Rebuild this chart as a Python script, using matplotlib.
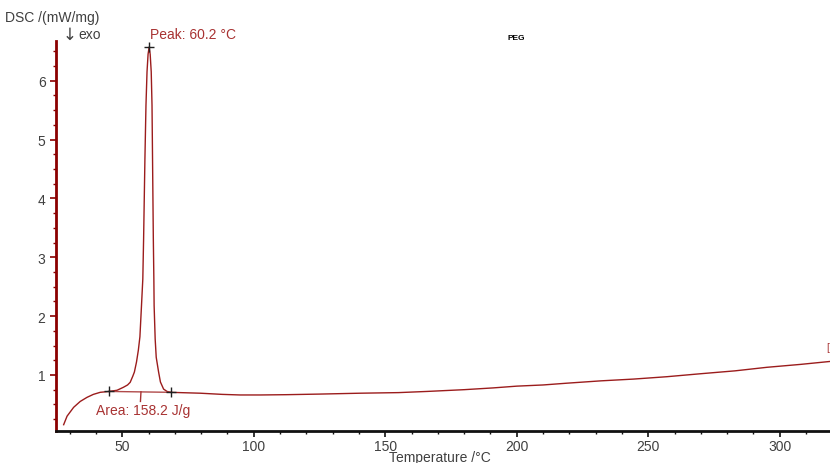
import matplotlib
matplotlib.use("Agg")
import matplotlib.pyplot as plt
from matplotlib.ticker import MultipleLocator

plt.rcParams['font.family'] = ['Liberation Sans', 'DejaVu Sans']

temperature = [27.7, 29.0, 31.5, 34.0, 36.6, 39.0, 41.6, 45.0, 48.0, 50.4, 52.0, 53.0,
               54.0, 54.6, 55.4, 56.1, 56.7, 57.3, 57.8, 58.1, 58.6, 59.0, 59.4, 59.8,
               60.2, 60.6, 61.0, 61.3, 61.5, 61.8, 62.0, 62.1, 62.5, 62.9, 63.8, 64.5,
               65.7, 67.0, 68.4, 72.0, 79.6, 88.0, 94.8, 102.5, 112.6, 125.0, 140.5,
               155.0, 165.9, 180.0, 191.0, 200.0, 210.0, 219.0, 232.0, 244.4, 257.0,
               269.7, 283.0, 295.1, 308.0, 319.2]
dsc = [0.155, 0.30, 0.45, 0.55, 0.62, 0.67, 0.705, 0.72, 0.74, 0.79, 0.83, 0.875,
       0.98, 1.05, 1.22, 1.42, 1.65, 2.18, 2.63, 3.31, 4.67, 5.58, 6.15, 6.45,
       6.57, 6.45, 6.15, 5.58, 4.67, 3.31, 2.63, 2.18, 1.61, 1.30, 1.05, 0.88,
       0.76, 0.72, 0.705, 0.70, 0.69, 0.67, 0.66, 0.66, 0.665, 0.675, 0.69,
       0.70, 0.72, 0.75, 0.78, 0.81, 0.83, 0.86, 0.90, 0.93, 0.97,
       1.02, 1.07, 1.13, 1.18, 1.23]

peak_T, peak_v = 60.2, 6.57
base_T = [45.0, 68.4]
base_v = [0.72, 0.705]
area_mark_T = 57.1

x_major = [50, 100, 150, 200, 250, 300]
y_major = [1, 2, 3, 4, 5, 6]

red = '#9b1c1c'
txtred = '#a83232'
gray = '#404040'

fig = plt.figure(figsize=(8.3, 4.64), dpi=100)
ax = fig.add_axes([0.0675, 0.069, 0.9325, 0.8405])

ax.plot(temperature, dsc, color=red, lw=1.0)
ax.plot(base_T, base_v, color='#b04a4a', lw=1.0)
ax.plot(base_T, base_v, linestyle='none', marker='+', color='#202020', ms=7, mew=1.0)
ax.plot([peak_T], [peak_v], linestyle='none', marker='+', color='#202020', ms=7, mew=1.0)
ax.plot([area_mark_T, area_mark_T - 0.2], [0.713, 0.55], color=txtred, lw=1.0)

ax.set_xlim(24.8, 319.1)
ax.set_ylim(0.048, 6.675)
ax.set_xticks(x_major)
ax.set_yticks(y_major)
ax.xaxis.set_minor_locator(MultipleLocator(10))
ax.yaxis.set_minor_locator(MultipleLocator(0.25))

for s in ['top', 'right']:
    ax.spines[s].set_visible(False)
ax.spines['left'].set_color('#8b0000')
ax.spines['left'].set_linewidth(2.0)
ax.spines['bottom'].set_color('#111111')
ax.spines['bottom'].set_linewidth(2.0)

ax.tick_params(axis='both', which='major', direction='out', length=4, width=1.2,
               labelsize=10, labelcolor=gray)
ax.tick_params(axis='both', which='minor', direction='out', length=2, width=1.0)
ax.tick_params(axis='x', which='both', colors='#111111', labelcolor=gray, pad=1.5)
ax.tick_params(axis='y', which='both', colors='#8b0000', labelcolor=gray)

fig.text(5/830, 1 - 18/464, 'DSC /(mW/mg)', fontsize=10, color=gray, va='center', ha='left')
fig.text(63/830, 1 - 35/464, '↓', fontsize=12, color=gray, va='center', ha='left',
         family=['DejaVu Sans'])
fig.text(78/830, 1 - 35/464, 'exo', fontsize=10, color=gray, va='center', ha='left')
fig.text(150/830, 1 - 35/464, 'Peak: 60.2 °C', fontsize=10, color=txtred, va='center', ha='left')
fig.text(516/830, 1 - 39/464, 'PEG', fontsize=6, fontweight='bold', color='black', va='center', ha='center')
fig.text(96/830, 1 - 411/464, 'Area: 158.2 J/g', fontsize=10, color=txtred, va='center', ha='left')
fig.text(440/830, 1 - 458/464, 'Temperature /°C', fontsize=10, color=gray, va='center', ha='center')
fig.text(826/830, 1 - 348/464, '[', fontsize=7, color=txtred, va='center', ha='left')

fig.savefig('out.png', dpi=100)
